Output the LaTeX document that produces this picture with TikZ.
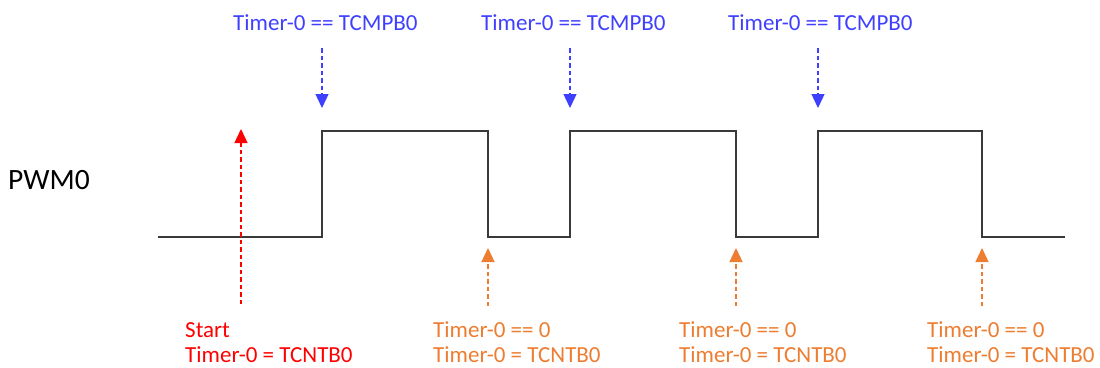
\documentclass[tikz,border=0pt]{standalone}
\usepackage{fontspec}
\setmainfont{Carlito}
\usetikzlibrary{arrows.meta}
\definecolor{cblue}{HTML}{3F3FFF}
\definecolor{cred}{HTML}{FF0000}
\definecolor{corange}{HTML}{ED7D31}
\definecolor{cwave}{HTML}{3A3A3A}
\tikzset{
  wave/.style={draw=cwave, line width=1.8pt, line join=miter},
  evarrow/.style={line width=1.3pt, dash pattern=on 4.5pt off 3pt, -{Triangle[width=13pt,length=14pt]}},
  lbl/.style={anchor=base west, inner sep=0pt, font=\fontsize{23}{25}\selectfont},
}
\begin{document}
\begin{tikzpicture}[x=1pt,y=-1pt]
\useasboundingbox (0,0) rectangle (1100,367);
% waveform
\coordinate (w0) at (158,237);
\coordinate (w1) at (322,237);
\coordinate (w2) at (322,131);
\coordinate (w3) at (488,131);
\coordinate (w4) at (488,237);
\coordinate (w5) at (570,237);
\coordinate (w6) at (570,131);
\coordinate (w7) at (736,131);
\coordinate (w8) at (736,237);
\coordinate (w9) at (818,237);
\coordinate (w10) at (818,131);
\coordinate (w11) at (982,131);
\coordinate (w12) at (982,237);
\coordinate (w13) at (1065,237);
\draw[wave] (w0) -- (w1) -- (w2) -- (w3) -- (w4) -- (w5) -- (w6) -- (w7) -- (w8) -- (w9) -- (w10) -- (w11) -- (w12) -- (w13);
\node[lbl, font=\fontsize{29.5}{32}\selectfont] (pwm) at (8,189) {PWM0};
% blue compare events
\foreach \i/\x/\lx in {1/322/233, 2/570/481, 3/818/728}{
  \node[lbl, text=cblue] (b\i) at (\lx,30) {Timer-0 == TCMPB0};
  \coordinate (bs\i) at (\x,48);
  \coordinate (be\i) at (\x,108);
  \draw[evarrow, cblue] (bs\i) -- (be\i);
}
% red start
\coordinate (rs) at (241,304);
\coordinate (re) at (241,129);
\draw[evarrow, cred] (rs) -- (re);
\node[lbl, text=cred] (st1) at (185,337) {Start};
\node[lbl, text=cred] (st2) at (185,362) {Timer-0 = TCNTB0};
% orange reload events
\foreach \i/\x/\lx in {1/488/433, 2/736/679, 3/982/927}{
  \coordinate (os\i) at (\x,306);
  \coordinate (oe\i) at (\x,248);
  \draw[evarrow, corange] (os\i) -- (oe\i);
  \node[lbl, text=corange] (o\i a) at (\lx,337) {Timer-0 == 0};
  \node[lbl, text=corange] (o\i b) at (\lx,362) {Timer-0 = TCNTB0};
}
\end{tikzpicture}
\end{document}
